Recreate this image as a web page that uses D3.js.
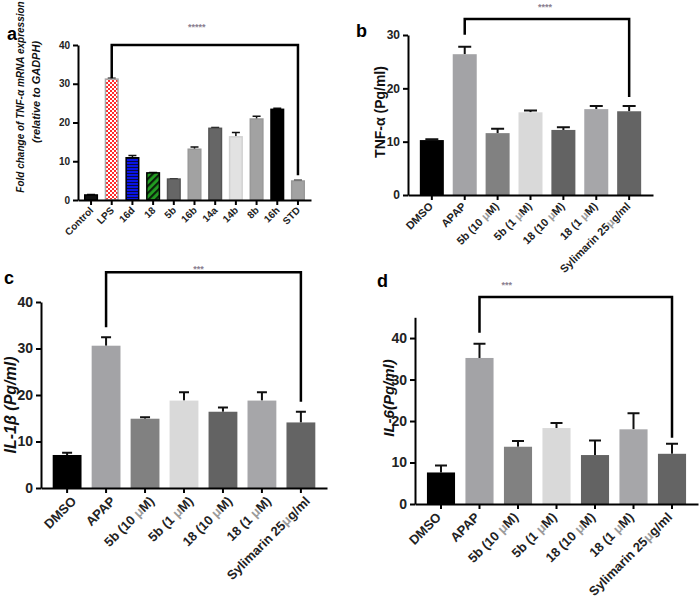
<!DOCTYPE html>
<html>
<head>
<meta charset="utf-8">
<script src="https://cdn.jsdelivr.net/npm/d3@7"></script>
<style>
  body { margin: 0; background: #fff; }
  svg { display: block; }
  text { font-family: Arial, "Liberation Sans", sans-serif; }
</style>
</head>
<body>
<svg id="chart" width="700" height="605"></svg>
<script>
// ---- data ----
const aCategories = ["Control", "LPS", "16d", "18", "5b", "16b", "14a", "14b", "8b", "16h", "STD"];
const aValues = [1.3, 31.2, 10.9, 7.0, 5.4, 13.1, 18.5, 16.3, 20.9, 23.4, 4.9];
const aErrors = [0.1, 0.2, 0.6, 0.1, 0.1, 0.6, 0.2, 1.1, 0.7, 0.3, 0.2];
const aTicks = [0, 10, 20, 30, 40];

const treatments = ["DMSO", "APAP", "5b (10 μM)", "5b (1 μM)", "18 (10 μM)", "18 (1 μM)", "Sylimarin 25μg/ml"];

const tnfValues = [10.3, 26.4, 11.6, 15.5, 12.2, 16.1, 15.7];
const tnfErrors = [0.15, 1.4, 0.8, 0.35, 0.5, 0.6, 1.0];
const tnfTicks = [0, 10, 20, 30];

const il1Values = [7.1, 30.6, 14.9, 18.8, 16.4, 18.8, 14.1];
const il1Errors = [0.5, 1.8, 0.3, 1.8, 0.9, 1.8, 2.3];
const il1Ticks = [0, 10, 20, 30, 40];

const il6Values = [7.6, 35.2, 13.8, 18.3, 11.8, 18.0, 12.1];
const il6Errors = [1.7, 3.4, 1.4, 1.2, 3.5, 3.9, 2.4];
const il6Ticks = [0, 10, 20, 30, 40];

const aColors = ["#111", "url(#checker)", "url(#hstripe)", "url(#diag)", "#666", "#a2a2a2", "#666", "#e2e2e2", "#a2a2a2", "#000", "#a2a2a2"];
const aStrokes = ["#000", "#aaa", "#000", "#000", "#555", "#999", "#555", "#d2d2d2", "#999", "#000", "#999"];
const treatColors = ["#000", "#a3a3a6", "#818181", "#d9d9d9", "#636363", "#a6a6a9", "#646464"];

const svg = d3.select("#chart");

// fill patterns for panel a
const defs = svg.append("defs");
let pat = defs.append("pattern").attr("id", "checker")
    .attr("width", 4).attr("height", 4).attr("patternUnits", "userSpaceOnUse");
pat.append("rect").attr("width", 4).attr("height", 4).attr("fill", "#fff");
pat.append("rect").attr("width", 2).attr("height", 2).attr("fill", "#ff2a2a");
pat.append("rect").attr("x", 2).attr("y", 2).attr("width", 2).attr("height", 2).attr("fill", "#ff2a2a");

pat = defs.append("pattern").attr("id", "hstripe")
    .attr("width", 4).attr("height", 3).attr("patternUnits", "userSpaceOnUse");
pat.append("rect").attr("width", 4).attr("height", 3).attr("fill", "#0a14e6");
pat.append("rect").attr("y", 2).attr("width", 4).attr("height", 1).attr("fill", "#0a0a40");

pat = defs.append("pattern").attr("id", "diag")
    .attr("width", 5).attr("height", 5).attr("patternUnits", "userSpaceOnUse")
    .attr("patternTransform", "rotate(45)");
pat.append("rect").attr("width", 5).attr("height", 5).attr("fill", "#22a022");
pat.append("rect").attr("width", 2.2).attr("height", 5).attr("fill", "#0b200b");

// label with a lighter micro sign, as in the figure
function addLabel(sel, label) {
    label.split(/(μ)/).forEach(part => {
        if (!part) return;
        sel.append("tspan").text(part).attr("fill", part === "μ" ? "#9a9a9a" : null);
    });
}

function drawPanel(p) {
    const g = svg.append("g");
    const x = d3.scaleBand()
        .domain(p.cats)
        .range(p.xRange)
        .paddingInner(p.pi)
        .paddingOuter(p.po);
    const y = d3.scaleLinear()
        .domain(p.domain)
        .range(p.yRange);
    const bw = x.bandwidth();
    const rows = p.cats.map((c, i) => ({c: c, v: p.values[i], e: p.errors[i], i: i}));

    // error bars (upper only)
    g.selectAll(".err")
        .data(rows)
        .join("path")
        .attr("class", "err")
        .attr("d", d => {
            const cx = x(d.c) + bw / 2;
            return "M" + cx + "," + y(d.v) + "V" + y(d.v + d.e) +
                "M" + (cx - p.capW / 2) + "," + y(d.v + d.e) + "H" + (cx + p.capW / 2);
        })
        .attr("stroke", "#111")
        .attr("stroke-width", p.errW)
        .attr("fill", "none");

    g.selectAll(".bar")
        .data(rows)
        .join("rect")
        .attr("class", "bar")
        .attr("x", d => x(d.c) + (p.strokes ? 0.75 : 0))
        .attr("y", d => y(d.v))
        .attr("width", bw - (p.strokes ? 1.5 : 0))
        .attr("height", d => y(0) - y(d.v))
        .attr("fill", d => p.colors[d.i])
        .attr("stroke", d => p.strokes ? p.strokes[d.i] : "none")
        .attr("stroke-width", 1.5);

    // y axis
    const yAxis = g.append("g")
        .attr("transform", "translate(" + p.xRange[0] + ",0)")
        .call(d3.axisLeft(y).tickValues(p.ticks).tickSize(5).tickSizeOuter(0).tickPadding(3));
    yAxis.select(".domain").attr("stroke-width", 2);
    yAxis.selectAll(".tick line").attr("stroke-width", 2);
    yAxis.selectAll("text")
        .attr("font-size", p.tickFont)
        .attr("font-weight", "bold")
        .attr("font-family", "Arial, 'Liberation Sans', sans-serif")
        .attr("fill", "#222");

    // x axis
    const xAxis = g.append("g")
        .attr("transform", "translate(0," + y(0) + ")")
        .call(d3.axisBottom(x).tickSize(5).tickSizeOuter(0).tickFormat(""));
    xAxis.select(".domain").attr("stroke-width", 2);
    xAxis.selectAll(".tick line").attr("stroke-width", 2);

    // rotated category labels, one group per label
    const labs = g.selectAll(".xlab")
        .data(p.cats)
        .join("g")
        .attr("class", "xlab")
        .attr("transform", c => "translate(" + (x(c) + bw / 2 + p.labDx) + "," + (y(0) + p.labDy) + ")");
    labs.append("text")
        .attr("transform", "rotate(-45)")
        .attr("text-anchor", "end")
        .attr("font-size", p.labFont)
        .attr("font-weight", "bold")
        .attr("fill", "#222")
        .each(function (c) { addLabel(d3.select(this), c); });

    // significance bracket
    const b = p.bracket;
    const bi = p.cats.indexOf(b.from), bj = p.cats.indexOf(b.to);
    const x1 = x(b.from) + bw / 2, x2 = x(b.to) + bw / 2;
    const top = y(b.level);
    g.append("path")
        .attr("d", "M" + x1 + "," + (y(p.values[bi] + p.errors[bi]) - b.gapL) + "V" + top +
            "H" + x2 + "V" + (y(p.values[bj] + p.errors[bj]) - b.gapR))
        .attr("fill", "none")
        .attr("stroke", "#000")
        .attr("stroke-width", 2.5);
    g.append("text")
        .attr("x", (x1 + x2) / 2 + b.starDx)
        .attr("y", top + b.starDy)
        .attr("text-anchor", "middle")
        .attr("font-size", 9)
        .attr("font-weight", "bold")
        .attr("fill", "#8a8090")
        .text(b.stars);

    // panel letter
    g.append("text")
        .attr("x", p.letter[1]).attr("y", p.letter[2])
        .attr("font-size", 18).attr("font-weight", "bold")
        .text(p.letter[0]);

    // y title
    p.title.forEach(t => {
        g.append("text")
            .attr("transform", "translate(" + t.x + "," + t.y + ") rotate(-90)")
            .attr("text-anchor", "middle")
            .attr("font-size", t.size)
            .attr("font-weight", "bold")
            .attr("font-style", t.italic ? "italic" : "normal")
            .attr("fill", "#111")
            .text(t.text);
    });
}

drawPanel({
    cats: aCategories, values: aValues, errors: aErrors, ticks: aTicks,
    colors: aColors, strokes: aStrokes,
    domain: [0, 40], yRange: [200, 45], xRange: [78, 311], pi: 0.32, po: 0.29,
    capW: 8, errW: 1.5, tickFont: 10, labFont: 10, labDx: 3, labDy: 11,
    bracket: {from: "LPS", to: "STD", level: 40, gapL: 0, gapR: 5, stars: "*****", starDx: -8, starDy: -15},
    letter: ["a", 7, 40],
    title: [
        {text: "Fold change of TNF-α mRNA expression", x: 24, y: 97, size: 10, italic: true},
        {text: "(relative to GADPH)", x: 40, y: 92, size: 11, italic: true}
    ]
});

drawPanel({
    cats: treatments, values: tnfValues, errors: tnfErrors, ticks: tnfTicks,
    colors: treatColors,
    domain: [0, 30], yRange: [195, 35], xRange: [408, 653], pi: 0.27, po: 0.36,
    capW: 13, errW: 2, tickFont: 12, labFont: 11, labDx: 2, labDy: 12,
    bracket: {from: "APAP", to: "Sylimarin 25μg/ml", level: 33, gapL: 12, gapR: 9, stars: "****", starDx: -2, starDy: -9},
    letter: ["b", 356, 37],
    title: [{text: "TNF-α (Pg/ml)", x: 385, y: 112, size: 14, italic: false}]
});

drawPanel({
    cats: treatments, values: il1Values, errors: il1Errors, ticks: il1Ticks,
    colors: treatColors,
    domain: [0, 40], yRange: [488, 302], xRange: [41, 327], pi: 0.26, po: 0.3,
    capW: 10, errW: 2, tickFont: 14, labFont: 13, labDx: 10, labDy: 14,
    bracket: {from: "APAP", to: "Sylimarin 25μg/ml", level: 46.4, gapL: 10, gapR: 10, stars: "***", starDx: -5, starDy: 0},
    letter: ["c", 4, 284],
    title: [{text: "IL-1β (Pg/ml)", x: 16, y: 405, size: 16, italic: true}]
});

drawPanel({
    cats: treatments, values: il6Values, errors: il6Errors, ticks: il6Ticks,
    colors: treatColors,
    domain: [0, 45], yRange: [504, 317.3], xRange: [415, 698], pi: 0.27, po: 0.31,
    capW: 12, errW: 2, tickFont: 14, labFont: 13, labDx: 1, labDy: 14,
    bracket: {from: "APAP", to: "Sylimarin 25μg/ml", level: 49.9, gapL: 11, gapR: 6, stars: "***", starDx: -69, starDy: -9},
    letter: ["d", 377, 287],
    title: [{text: "IL-6(Pg/ml)", x: 394, y: 398, size: 15, italic: true}]
});
</script>
</body>
</html>
